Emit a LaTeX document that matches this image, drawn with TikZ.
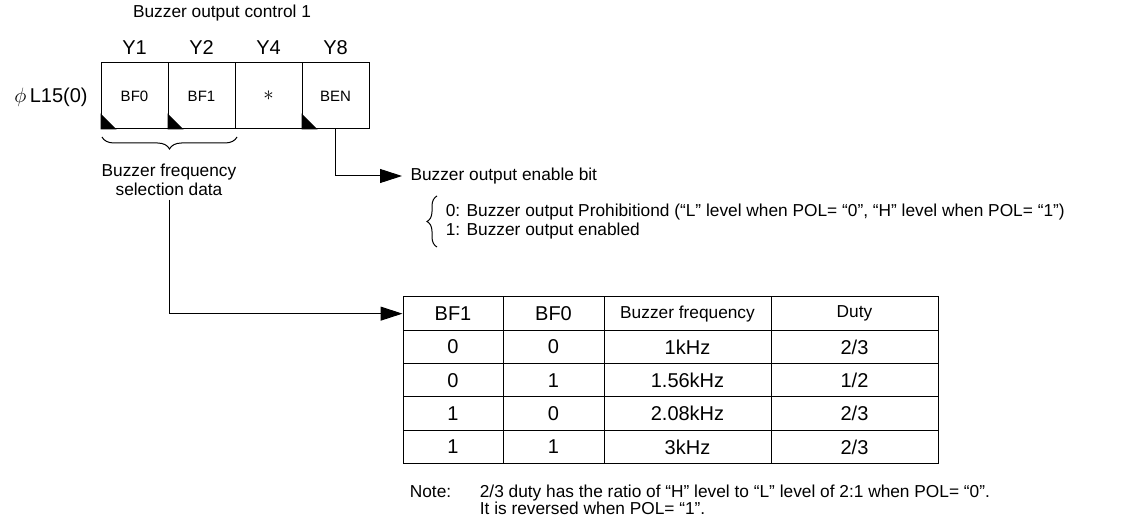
\documentclass[tikz,border=0pt]{standalone}
\usepackage{fontspec}
\setmainfont{Liberation Sans}
\usetikzlibrary{arrows.meta,decorations.pathreplacing}

\begin{document}
\begin{tikzpicture}[x=1pt,y=-1pt,line width=1pt,>={Triangle[length=22pt,width=14pt]},
    txt/.style={font=\fontsize{17.3}{19}\selectfont},
    big/.style={font=\fontsize{20}{22}\selectfont},
    regcell/.style={draw,minimum width=67pt,minimum height=66pt,inner sep=0pt,
        font=\fontsize{15}{16}\selectfont},
    tcell/.style={draw,minimum height=33.3pt,inner sep=0pt},
    corner/.style={fill=black}]
    \useasboundingbox (0,0) rectangle (1142,518);
    % register
    \node[txt] (title) at (222,13) {Buzzer output control 1};
    \node[regcell] (bf0) at (134.5,96) {BF0};
    \node[regcell] (bf1) at (201.5,96) {BF1};
    \node[regcell,big] (nc) at (268.5,96) {$*$};
    \node[regcell] (ben) at (335.5,96) {BEN};
    \node[big] (y1) at (134.5,48) {Y1};
    \node[big] (y2) at (201.5,48) {Y2};
    \node[big] (y4) at (268.5,48) {Y4};
    \node[big] (y8) at (335.5,48) {Y8};
    \node[big] (reg) at (51,97) {$\phi$\,L15(0)};
    \foreach \c in {bf0,bf1,ben}
        \fill[corner] (\c.south west) -- ++(0,-16) -- ++(16,16) -- cycle;
    % bit descriptions
    \draw[decorate,decoration={brace,amplitude=12pt,mirror}] (102,137) -- (237,137);
    \node[txt,align=center] (seldata) at (169,180) {Buzzer frequency\\selection data};
    \node[txt,anchor=west,inner xsep=8pt] (enbit) at (402,176) {Buzzer output enable bit};
    \draw[->] (ben.south) |- (enbit.west);
    \draw[decorate,decoration={brace,amplitude=10pt}] (437,247) -- (437,196);
    \node[txt,anchor=west,align=left] (benval) at (442,221.5)
        {0: Buzzer output Prohibitiond (“L” level when POL= “0”, “H” level when POL= “1”)\\
         1: Buzzer output enabled};
    % frequency table
    \node[tcell,minimum width=100pt,big] (h1) at (453,313.65) {BF1};
    \node[tcell,minimum width=101pt,big] (h2) at (553.5,313.65) {BF0};
    \node[tcell,minimum width=167pt,txt] (h3) at (687.5,313.65) {Buzzer frequency};
    \node[tcell,minimum width=167pt,txt] (h4) at (854.5,313.65) {Duty};
    \foreach \r/\a/\b/\f/\d in {1/0/0/1kHz/{2/3},2/0/1/1.56kHz/{1/2},
                                3/1/0/2.08kHz/{2/3},4/1/1/3kHz/{2/3}} {
        \node[tcell,minimum width=100pt,big] (a\r) at (453,313.65+33.3*\r) {\a};
        \node[tcell,minimum width=101pt,big] (b\r) at (553.5,313.65+33.3*\r) {\b};
        \node[tcell,minimum width=167pt,big] (f\r) at (687.5,313.65+33.3*\r) {\f};
        \node[tcell,minimum width=167pt,big] (d\r) at (854.5,313.65+33.3*\r) {\d};
    }
    \draw[->] (seldata.south) |- (h1.west);
    % note
    \node[txt,anchor=west] (notehead) at (406,492) {Note:};
    \node[txt,anchor=west,align=left,font=\fontsize{17.3}{16}\selectfont] (note) at (476,500)
        {2/3 duty has the ratio of “H” level to “L” level of 2:1 when POL= “0”.\\
         It is reversed when POL= “1”.};
\end{tikzpicture}
\end{document}
